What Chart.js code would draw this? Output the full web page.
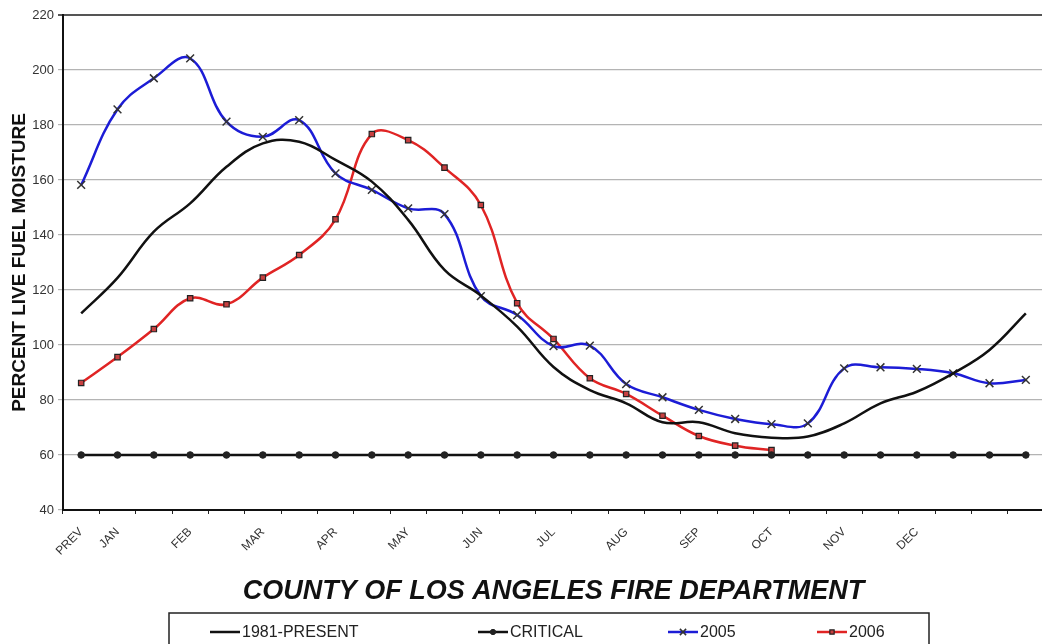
<!DOCTYPE html>
<html>
<head>
<meta charset="utf-8">
<script src="https://cdn.jsdelivr.net/npm/chart.js@4.4.0/dist/chart.umd.min.js"></script>
<style>
  html, body { margin: 0; padding: 0; background: #fff; overflow: hidden; }
  #wrap { position: relative; width: 1051px; height: 644px; }
</style>
</head>
<body>
<div id="wrap"><canvas id="moistureChart"></canvas></div>
<script>
// x categories (semi-monthly samples, only some are labelled)
const labels = ['PREV', 'JAN', '', 'FEB', '', 'MAR', '', 'APR', '', 'MAY', '', 'JUN', '', 'JUL', '',
                'AUG', '', 'SEP', '', 'OCT', '', 'NOV', '', 'DEC', '', '', ''];

const avg1981 = [111.5, 124.4, 141.2, 151.5, 164.8, 173.3, 173.9, 167.3, 159.4, 145.5, 127.3, 118, 106.7, 92,
                 83.6, 78.8, 71.9, 71.9, 67.9, 66.3, 66.7, 71.5, 78.8, 83, 89.7, 98.2, 111.5];
const critical = [60, 60, 60, 60, 60, 60, 60, 60, 60, 60, 60, 60, 60, 60,
                  60, 60, 60, 60, 60, 60, 60, 60, 60, 60, 60, 60, 60];
const y2005 = [158.2, 185.7, 197, 204.2, 181.2, 175.7, 181.8, 162.4, 156.4, 149.7, 147.6, 117.8, 110.9, 99.6,
               99.8, 85.8, 81, 76.4, 73.1, 71.2, 71.5, 91.5, 91.9, 91.3, 89.7, 86.1, 87.3];
const y2006 = [86.2, 95.6, 105.8, 117, 114.8, 124.5, 132.7, 145.7, 176.7, 174.5, 164.5, 150.9, 115.2, 102.2,
               87.9, 82.2, 74.3, 66.9, 63.4, 61.8, null, null, null, null, null, null, null];

const yMin = 40, yMax = 220, yStep = 20;
const fontFamily = '"Liberation Sans", Arial, sans-serif';

// boxed legend under the title, like the old Excel chart
const legendBox = {
    id: 'legendBox',
    afterDraw(chart) {
        const ctx = chart.ctx;
        const xs = [210, 478, 668, 817];
        const y = 632;
        ctx.save();
        ctx.strokeStyle = '#222';
        ctx.lineWidth = 1.5;
        ctx.strokeRect(169, 613, 760, 50);
        chart.data.datasets.forEach((ds, i) => {
            const x = xs[i];
            ctx.strokeStyle = ds.borderColor;
            ctx.lineWidth = 2.5;
            ctx.beginPath();
            ctx.moveTo(x, y);
            ctx.lineTo(x + 30, y);
            ctx.stroke();
            if (ds.pointRadius > 0) {
                ctx.fillStyle = ds.pointBackgroundColor || ds.borderColor;
                ctx.strokeStyle = ds.pointBorderColor || ds.borderColor;
                ctx.lineWidth = ds.pointBorderWidth;
                Chart.helpers.drawPoint(ctx, {
                    pointStyle: ds.pointStyle,
                    radius: ds.pointRadius * 0.8,
                    borderWidth: ds.pointBorderWidth
                }, x + 15, y);
            }
            ctx.fillStyle = '#222';
            ctx.font = '16px ' + fontFamily;
            ctx.textBaseline = 'middle';
            ctx.fillText(ds.label, x + 32, y + 1);
        });
        ctx.restore();
    }
};

const ctx = document.getElementById('moistureChart').getContext('2d');
new Chart(ctx, {
    type: 'line',
    data: {
        labels: labels,
        datasets: [
            {
                label: '1981-PRESENT',
                data: avg1981,
                borderColor: '#111',
                borderWidth: 2.5,
                pointRadius: 0,
                tension: 0.4
            },
            {
                label: 'CRITICAL',
                data: critical,
                borderColor: '#111',
                backgroundColor: '#222',
                borderWidth: 2.5,
                pointStyle: 'circle',
                pointRadius: 3.3,
                pointBorderWidth: 1,
                pointBorderColor: '#222',
                pointBackgroundColor: '#222',
                tension: 0
            },
            {
                label: '2005',
                data: y2005,
                borderColor: '#1c1cd6',
                borderWidth: 2.5,
                pointStyle: 'crossRot',
                pointRadius: 5.5,
                pointBorderWidth: 1.5,
                pointBorderColor: '#333',
                tension: 0.4
            },
            {
                label: '2006',
                data: y2006,
                borderColor: '#e02424',
                borderWidth: 2.5,
                pointStyle: 'rect',
                pointRadius: 3.8,
                pointBorderWidth: 1.2,
                pointBorderColor: '#222',
                pointBackgroundColor: '#c84040',
                tension: 0.4
            }
        ]
    },
    options: {
        responsive: true,
        maintainAspectRatio: false,
        animation: false,
        layout: { padding: { top: 15, right: 0, bottom: 0, left: 0 } },
        plugins: {
            legend: { display: false },
            tooltip: { enabled: false }
        },
        scales: {
            x: {
                type: 'category',
                offset: true,
                afterFit: (scale) => { scale.height = 134; },
                grid: { display: true, drawOnChartArea: false, drawTicks: true, tickLength: 4, color: '#222', offset: true },
                border: { display: true, color: '#111', width: 2 },
                ticks: {
                    autoSkip: false,
                    maxRotation: 45,
                    minRotation: 45,
                    padding: 11,
                    color: '#333',
                    font: { family: fontFamily, size: 12 }
                },
                title: {
                    display: true,
                    text: 'COUNTY OF LOS ANGELES FIRE DEPARTMENT',
                    color: '#111',
                    font: { family: fontFamily, size: 27, weight: 'bold', style: 'italic' },
                    padding: { top: 0, bottom: 36 }
                }
            },
            y: {
                min: yMin,
                max: yMax,
                afterFit: (scale) => { scale.width = 63; },
                ticks: {
                    stepSize: yStep,
                    color: '#333',
                    padding: 4,
                    font: { family: fontFamily, size: 13 }
                },
                grid: {
                    color: (c) => c.tick && c.tick.value === yMax ? '#555' : '#b4b4b4',
                    lineWidth: (c) => c.tick && c.tick.value === yMax ? 2 : 1.2,
                    tickLength: 5
                },
                border: { display: true, color: '#111', width: 2 },
                title: {
                    display: true,
                    text: 'PERCENT LIVE FUEL MOISTURE',
                    color: '#111',
                    font: { family: fontFamily, size: 19, weight: 'bold' },
                    padding: { top: 8, bottom: 0 }
                }
            }
        }
    },
    plugins: [legendBox]
});
</script>
</body>
</html>
